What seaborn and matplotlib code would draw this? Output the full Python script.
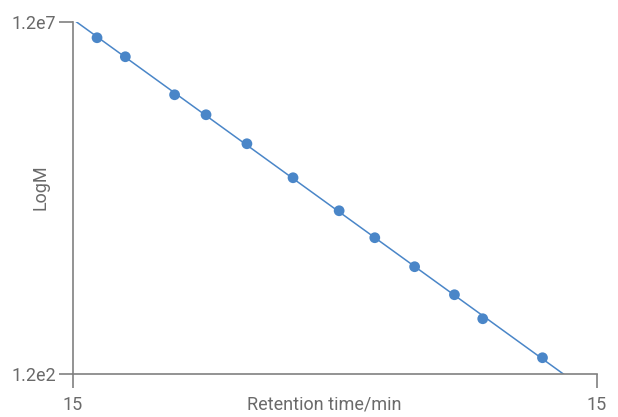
import numpy as np
import pandas as pd
import matplotlib
matplotlib.use("Agg")
import matplotlib.pyplot as plt
import seaborn as sns

# calibration standards
retention_time = [15.023, 15.050, 15.097, 15.127, 15.166, 15.210,
                  15.254, 15.288, 15.326, 15.364, 15.391, 15.448]
log_m = [6.857, 6.587, 6.047, 5.763, 5.351, 4.868,
         4.399, 4.016, 3.604, 3.206, 2.865, 2.311]
y_ticks = [120, 1.2e7]
y_tick_labels = ["1.2e2", "1.2e7"]
x_ticks = [15.0, 15.5]
x_tick_labels = ["15", "15"]

df = pd.DataFrame({"time": retention_time, "logm": log_m})
df["M"] = 10 ** df["logm"]

sns.set_style("white")
plt.rcParams["font.family"] = ["Liberation Sans Narrow", "Roboto", "DejaVu Sans"]

blue = "#4a86c8"
grey = "#808080"
text_grey = "#6a6a6a"

fig = plt.figure(figsize=(6.18, 4.17), dpi=100)
ax = fig.add_axes([0.118, 0.103, 0.848, 0.844])

# linear fit of logM against time
slope, intercept = np.polyfit(df["time"], df["logm"], 1)
fit_x = np.linspace(x_ticks[0], x_ticks[1], 200)
fit = pd.DataFrame({"time": fit_x, "M": 10 ** (slope * fit_x + intercept)})
sns.lineplot(data=fit, x="time", y="M", ax=ax, color=blue, linewidth=1.1)
sns.scatterplot(data=df, x="time", y="M", ax=ax, color=blue, s=60,
                edgecolor="none", zorder=3)

ax.set_yscale("log")
ax.set_xlim(x_ticks[0], x_ticks[1])
ax.set_ylim(y_ticks[0], y_ticks[1])
ax.yaxis.set_minor_locator(matplotlib.ticker.NullLocator())
ax.set_yticks(y_ticks)
ax.set_yticklabels(y_tick_labels)
ax.set_xticks(x_ticks)
ax.set_xticklabels(x_tick_labels)

for side in ["top", "right"]:
    ax.spines[side].set_visible(False)
for side in ["left", "bottom"]:
    ax.spines[side].set_color(grey)
    ax.spines[side].set_linewidth(1.2)

ax.tick_params(axis="both", colors=grey, labelcolor=text_grey, labelsize=13,
               length=10, width=1.2, direction="out", left=True, bottom=True)
ax.tick_params(axis="x", pad=6)
ax.tick_params(axis="y", pad=2)

ax.set_xlabel("Retention time/min", fontsize=13, color=text_grey)
ax.set_ylabel("LogM", fontsize=13, color=text_grey)
ax.xaxis.set_label_coords(0.48, -0.06)
ax.yaxis.set_label_coords(-0.044, 0.53)

fig.savefig("out.png", dpi=100)
